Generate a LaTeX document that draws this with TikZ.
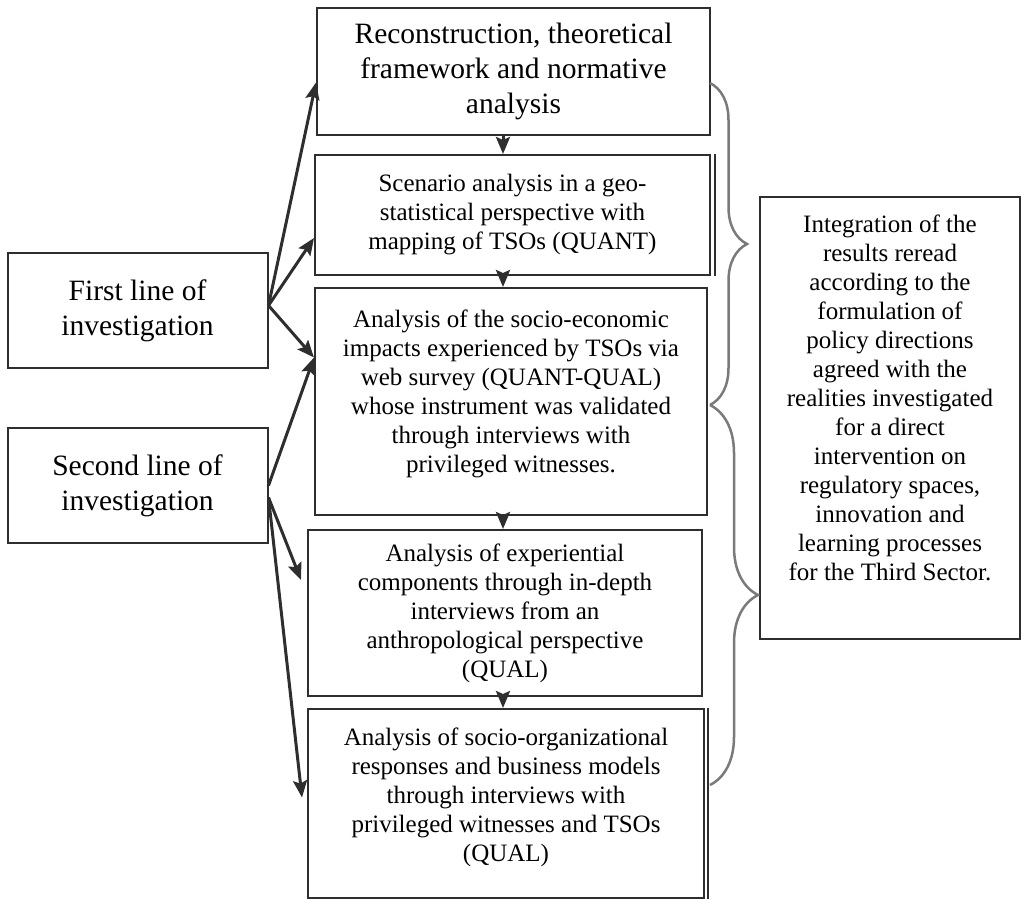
\documentclass[tikz,border=0pt]{standalone}
\usepackage{fontspec}
\setmainfont{Liberation Serif}
\usetikzlibrary{arrows.meta,calc,decorations.pathreplacing}
\definecolor{ink}{HTML}{2E2E2E}
\definecolor{bracegray}{HTML}{7A7A7A}
\tikzset{
box/.style={draw=ink,line width=2pt,align=center,inner sep=0pt},
bigtext/.style={font=\fontsize{29.5}{35}\selectfont},
smalltext/.style={font=\fontsize{25}{29}\selectfont},
flow/.style={-{Stealth[length=17pt,width=14pt,inset=3pt]},draw=ink,line width=3pt},
curly/.style={decorate,decoration={brace,amplitude=#1},draw=bracegray,line width=2.5pt},
curly/.default={40pt},
}

\begin{document}
\begin{tikzpicture}[x=1pt,y=-1pt]
    \useasboundingbox (0,0) rectangle (1021,900);

    % middle column
    \node[box,bigtext,minimum width=393pt,minimum height=127pt] (recon) at (513.5,71.5)
        {Reconstruction, theoretical\\framework and normative\\analysis};
    \node[box,smalltext,minimum width=395pt,minimum height=120pt] (scen) at (512.5,215)
        {Scenario analysis in a geo-\\statistical perspective with\\mapping of TSOs (QUANT)};
    \node[box,smalltext,minimum width=392pt,minimum height=227pt] (impact) at (511,401.5)
        {Analysis of the socio-economic\\impacts experienced by TSOs via\\web survey (QUANT-QUAL)\\whose instrument was validated\\through interviews with\\privileged witnesses.\\[-9pt]};
    \node[box,smalltext,minimum width=394pt,minimum height=166pt] (exper) at (505,613)
        {Analysis of experiential\\components through in-depth\\interviews from an\\anthropological perspective\\(QUAL)};
    \node[box,smalltext,minimum width=396pt,minimum height=189pt] (org) at (506,803.5)
        {Analysis of socio-organizational\\responses and business models\\through interviews with\\privileged witnesses and TSOs\\(QUAL)\\[-11pt]};
    \draw[ink,line width=1.2pt] ([xshift=4pt]scen.north east) -- ([xshift=4pt]scen.south east);
    \draw[ink,line width=1.2pt] ([xshift=3pt]org.north east) -- ([xshift=3pt]org.south east);

    % lines of investigation
    \node[box,bigtext,minimum width=260pt,minimum height=115pt] (first) at (137.5,310.5)
        {First line of\\investigation};
    \node[box,bigtext,minimum width=260pt,minimum height=115pt] (second) at (137.5,485.5)
        {Second line of\\investigation};

    % integration box
    \node[box,minimum width=260pt,minimum height=442pt] (result) at (890,418) {};
    \node[smalltext,align=center] (resulttext) at (890,398)
        {Integration of the\\results reread\\according to the\\formulation of\\policy directions\\agreed with the\\realities investigated\\for a direct\\intervention on\\regulatory spaces,\\innovation and\\learning processes\\for the Third Sector.};

    % arrows
    \coordinate (hub) at ([yshift=44pt]impact.west);
    \coordinate (spine) at (503,0);
    \draw[flow] ([yshift=5pt]first.east) -- ([yshift=-11pt]recon.west);
    \draw[flow] ([yshift=5pt]first.east) -- ([yshift=-23pt]scen.west);
    \draw[flow] ([yshift=5pt]first.east) -- (hub);
    \draw[flow] (second.east) -- (hub);
    \draw[flow] ([yshift=-12pt]second.east) -- ([xshift=-6pt,yshift=33pt]exper.west);
    \draw[flow] ([yshift=-12pt]second.east) -- ([xshift=-5pt,yshift=6pt]org.west);
    \foreach \a/\b in {recon/scen,scen/impact,impact/exper,exper/org}
        \draw[flow] (\a.south -| spine) -- (\b.north -| spine);

    % braces
    \coordinate (b1top) at (710,83);
    \coordinate (b1bot) at (710,405);
    \coordinate (b2bot) at (710,785);
    \draw[curly=37pt] (b1top) -- (b1bot);
    \draw[curly=48pt] (b1bot) -- (b2bot);
\end{tikzpicture}
\end{document}
